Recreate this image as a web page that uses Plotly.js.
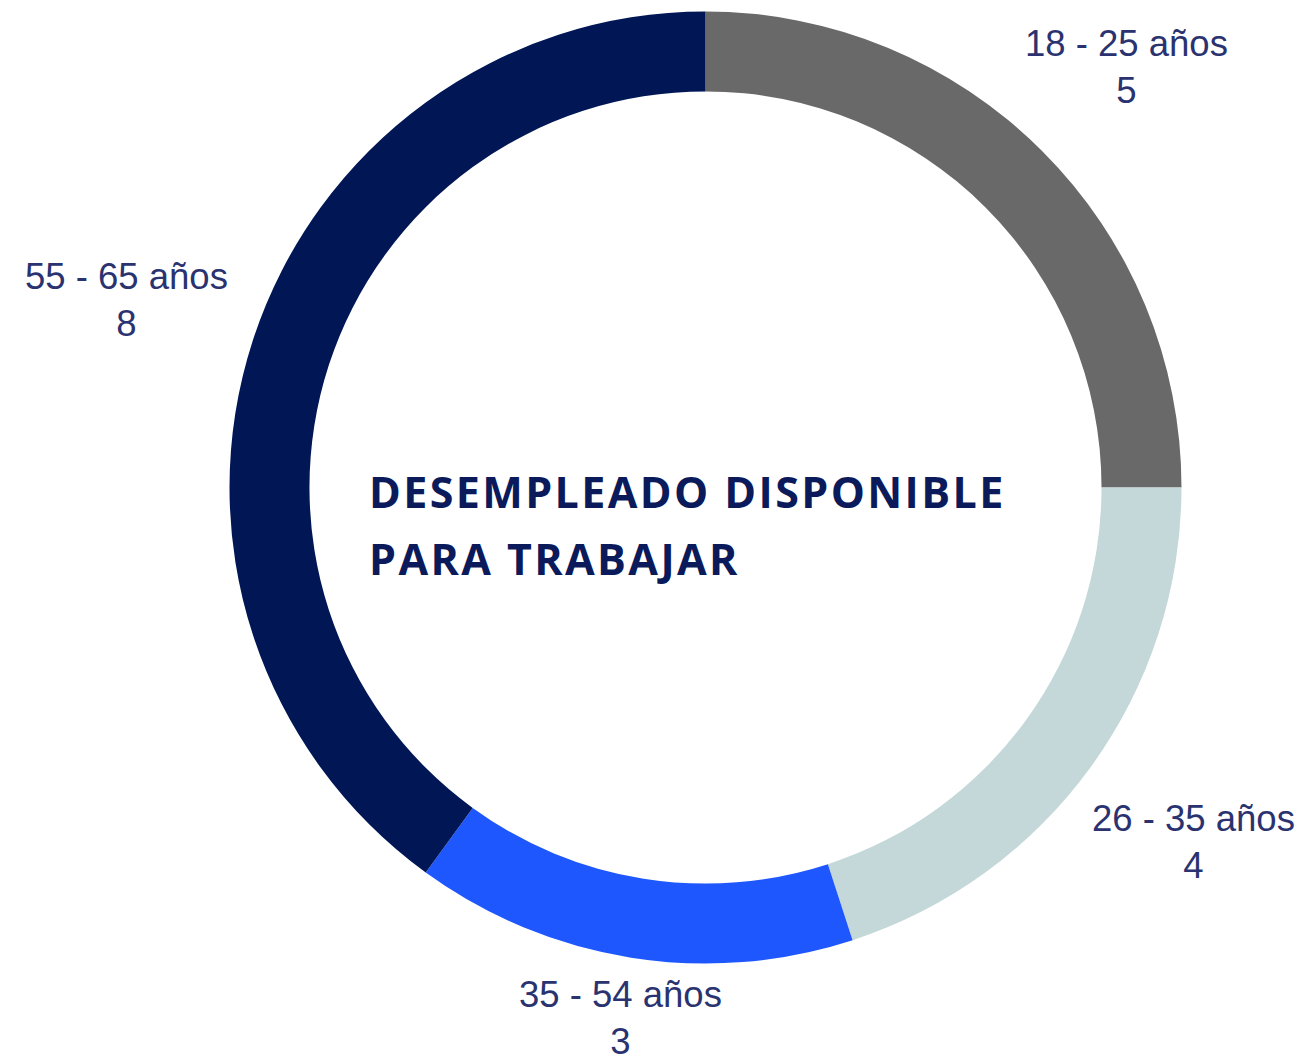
<!DOCTYPE html>
<html>
<head>
<meta charset="utf-8">
<script src="https://cdn.plot.ly/plotly-3.0.1.min.js"></script>
<style>
html,body{margin:0;padding:0;background:#fff;}
#chart{width:1307px;height:1063px;}
</style>
</head>
<body>
<div id="chart"></div>
<script>
const categories = ["18 - 25 años", "26 - 35 años", "35 - 54 años", "55 - 65 años"];
const values = [5, 4, 3, 8];
const colors = ["#696969", "#c4d8d9", "#1f57fe", "#001655"];
const centerLines = ["DESEMPLEADO DISPONIBLE", "PARA TRABAJAR"];

const W = 1307, H = 1063;
const px = x => x / W;
const py = y => 1 - y / H;

// label anchor positions (pixels) for each category
const labelPos = [[1126, 67], [1193, 842], [620, 1018], [126, 300]];

const annotations = categories.map((c, i) => ({
  text: c + "<br>" + values[i],
  x: px(labelPos[i][0]), y: py(labelPos[i][1]),
  xref: "paper", yref: "paper", showarrow: false,
  xanchor: "center", yanchor: "middle", align: "center",
  font: {family: "Liberation Sans, Arial, sans-serif", size: 36.5, color: "#2a3370"}
}));

const centerY = [492, 558];
centerLines.forEach((t, i) => {
  annotations.push({
    text: t, x: px(367), y: py(centerY[i]),
    xref: "paper", yref: "paper", showarrow: false,
    xanchor: "left", yanchor: "middle", align: "left",
    font: {family: "Open Sans, sans-serif", size: 43, weight: 700, color: "#0b1a5a"}
  });
});

const cx = 705.5, cy = 487.5, r = 476;
const data = [{
  type: "pie",
  labels: categories,
  values: values,
  sort: false,
  direction: "clockwise",
  rotation: 0,
  hole: 0.832,
  marker: {colors: colors, line: {width: 0}},
  textinfo: "none",
  hoverinfo: "label+value",
  showlegend: false,
  domain: {x: [px(cx - r), px(cx + r)], y: [py(cy + r), py(cy - r)]}
}];

const layout = {
  width: W, height: H,
  margin: {l: 0, r: 0, t: 0, b: 0},
  paper_bgcolor: "#ffffff",
  showlegend: false,
  annotations: annotations
};

Plotly.newPlot("chart", data, layout, {displayModeBar: false, staticPlot: true}).then(() => {
  document.querySelectorAll(".annotation").forEach((a, i) => {
    if (i >= categories.length) {
      const t = a.querySelector("text");
      if (t) t.style.letterSpacing = "2.4px";
    }
  });
});
</script>
</body>
</html>
